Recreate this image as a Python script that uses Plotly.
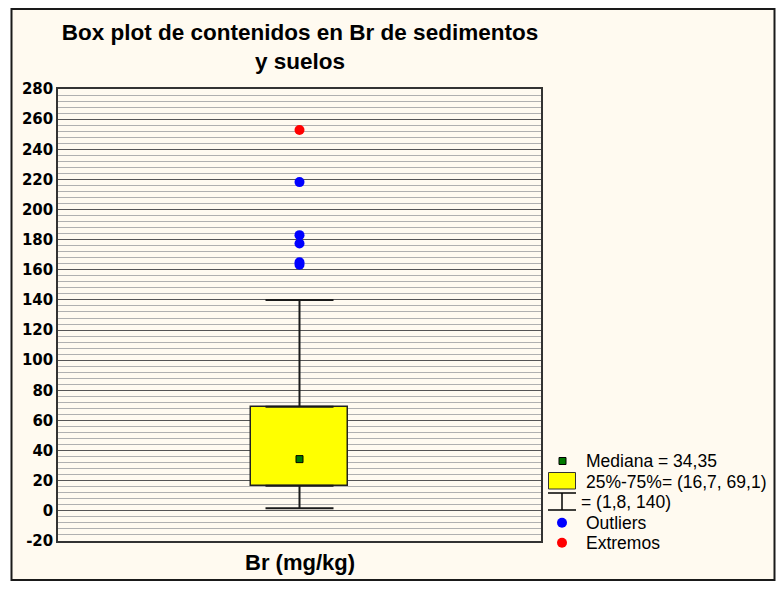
import plotly.graph_objects as go

# ---- data ----
variable = "Br (mg/kg)"
q1 = 16.7
median = 34.35
q3 = 69.1
whisker_low = 1.8
whisker_high = 140.0
outliers = [218.2, 183.0, 177.5, 165.0, 163.4]
extremes = [252.8]
title_lines = ["Box plot de contenidos en Br de sedimentos", "y suelos"]
legend_labels = ["Mediana", "Outliers", "Extremos"]
y_tick_values = [-20, 0, 20, 40, 60, 80, 100, 120, 140, 160, 180, 200, 220, 240, 260, 280]
y_tick_labels = ["-20", "0", "20", "40", "60", "80", "100", "120", "140", "160",
                 "180", "200", "220", "240", "260", "280"]

# ---- layout geometry (pixels) ----
W, H = 776, 590
L, R, T, B = 58, 235, 89, 49
PW = W - L - R
PH = H - T - B


def px(x):
    return (x - L) / PW


def py(y):
    return (H - B - y) / PH


def fmt(v):
    s = ("%.2f" % v).rstrip("0").rstrip(".")
    return s.replace(".", ",")


CREAM = "#FFFAF0"
GREEN = "#007A00"
BOLD = "Liberation Sans, Arial, sans-serif"

fig = go.Figure()

# box body
fig.add_trace(go.Bar(
    x=[0], base=[q1], y=[q3 - q1], width=0.4,
    marker=dict(color="#FFFF00", line=dict(color="#222222", width=1.5)),
    hoverinfo="skip", showlegend=False,
))
# whiskers
fig.add_trace(go.Scatter(
    x=[0, 0], y=[q3, q1], mode="markers",
    marker=dict(size=1, color="rgba(0,0,0,0)"),
    error_y=dict(type="data", symmetric=False,
                 array=[whisker_high - q3, 0],
                 arrayminus=[0, q1 - whisker_low],
                 width=34, thickness=2, color="#1a1a1a"),
    hoverinfo="skip", showlegend=False,
))
# median
fig.add_trace(go.Scatter(
    x=[0], y=[median], mode="markers",
    marker=dict(symbol="square", size=7, color=GREEN, line=dict(color="black", width=1)),
    showlegend=False,
))
# outliers
fig.add_trace(go.Scatter(
    x=[0] * len(outliers), y=outliers, mode="markers",
    marker=dict(size=10, color="#0000FF"), showlegend=False,
))
fig.add_trace(go.Scatter(
    x=[0] * len(extremes), y=extremes, mode="markers",
    marker=dict(size=10, color="#FF0000"), showlegend=False,
))

shapes = [
    dict(type="rect", xref="paper", yref="paper", layer="below",
         x0=px(11.5), x1=px(774.5), y0=py(580), y1=py(9),
         fillcolor=CREAM, line=dict(color="#1a1a1a", width=2)),
    # legend: median square
    dict(type="rect", xref="paper", yref="paper",
         x0=px(559), x1=px(566), y0=py(464.5), y1=py(457.5),
         fillcolor=GREEN, line=dict(color="black", width=1)),
    # legend: box
    dict(type="rect", xref="paper", yref="paper",
         x0=px(548.5), x1=px(575.5), y0=py(489), y1=py(472.5),
         fillcolor="#FFFF00", line=dict(color="#333333", width=1)),
    # legend: whisker
    dict(type="line", xref="paper", yref="paper",
         x0=px(548), x1=px(576), y0=py(493), y1=py(493), line=dict(color="black", width=1.5)),
    dict(type="line", xref="paper", yref="paper",
         x0=px(548), x1=px(576), y0=py(510), y1=py(510), line=dict(color="black", width=1.5)),
    dict(type="line", xref="paper", yref="paper",
         x0=px(562), x1=px(562), y0=py(493), y1=py(510), line=dict(color="black", width=1.5)),
    # legend: dots
    dict(type="circle", xref="paper", yref="paper",
         x0=px(557), x1=px(567), y0=py(527.7), y1=py(517.7),
         fillcolor="#0000FF", line=dict(width=0)),
    dict(type="circle", xref="paper", yref="paper",
         x0=px(557), x1=px(567), y0=py(547.7), y1=py(537.7),
         fillcolor="#FF0000", line=dict(width=0)),
]

leg_font = dict(family="Liberation Sans, Arial, sans-serif", size=17.5, color="black")
annotations = []
legend_items = [
    (584, 461, "%s = %s" % (legend_labels[0], fmt(median))),
    (584, 481.7, "25%%-75%%= (%s, %s)" % (fmt(q1), fmt(q3))),
    (579, 501.7, "= (%s, %s)" % (fmt(whisker_low), fmt(whisker_high))),
    (584, 522.7, legend_labels[1]),
    (584, 542.7, legend_labels[2]),
]
for x, y, t in legend_items:
    annotations.append(dict(xref="paper", yref="paper", x=px(x), y=py(y),
                            xanchor="left", yanchor="middle", text=t,
                            showarrow=False, font=leg_font))
annotations.append(dict(xref="paper", yref="paper", x=px(300), y=py(562),
                        xanchor="center", yanchor="middle", text="<b>%s</b>" % variable,
                        showarrow=False, font=dict(family=BOLD, size=22, color="black")))

fig.update_layout(
    width=W, height=H,
    margin=dict(l=L, r=R, t=T, b=B, pad=0),
    paper_bgcolor="white",
    plot_bgcolor="#F4F4F4",
    title=dict(text="<b>%s<br>%s</b>" % tuple(title_lines),
               x=px(300), xref="paper", xanchor="center",
               y=1 - 40 / H, yref="container", yanchor="middle",
               font=dict(family=BOLD, size=22.5, color="black")),
    shapes=shapes,
    annotations=annotations,
    showlegend=False,
    bargap=0,
)
fig.update_xaxes(range=[-1, 1], showticklabels=False, showgrid=False, zeroline=False,
                 showline=True, mirror=True, linecolor="#333333", linewidth=1.5, ticks="")
fig.update_yaxes(range=[-20, 280], tickmode="array", tickvals=y_tick_values,
                 ticktext=y_tick_labels, showgrid=True,
                 gridcolor="#555555", gridwidth=1,
                 minor=dict(dtick=4, tick0=0, showgrid=True, gridcolor="#B0B0B0", gridwidth=1),
                 zeroline=False, showline=True, mirror=True, linecolor="#333333",
                 linewidth=1.5, ticks="",
                 tickfont=dict(family="DejaVu Sans, sans-serif", size=15, color="black",
                               weight="bold"))

fig.write_html("out.html", config={"displayModeBar": False},
               post_script="document.body.style.margin='0';")
